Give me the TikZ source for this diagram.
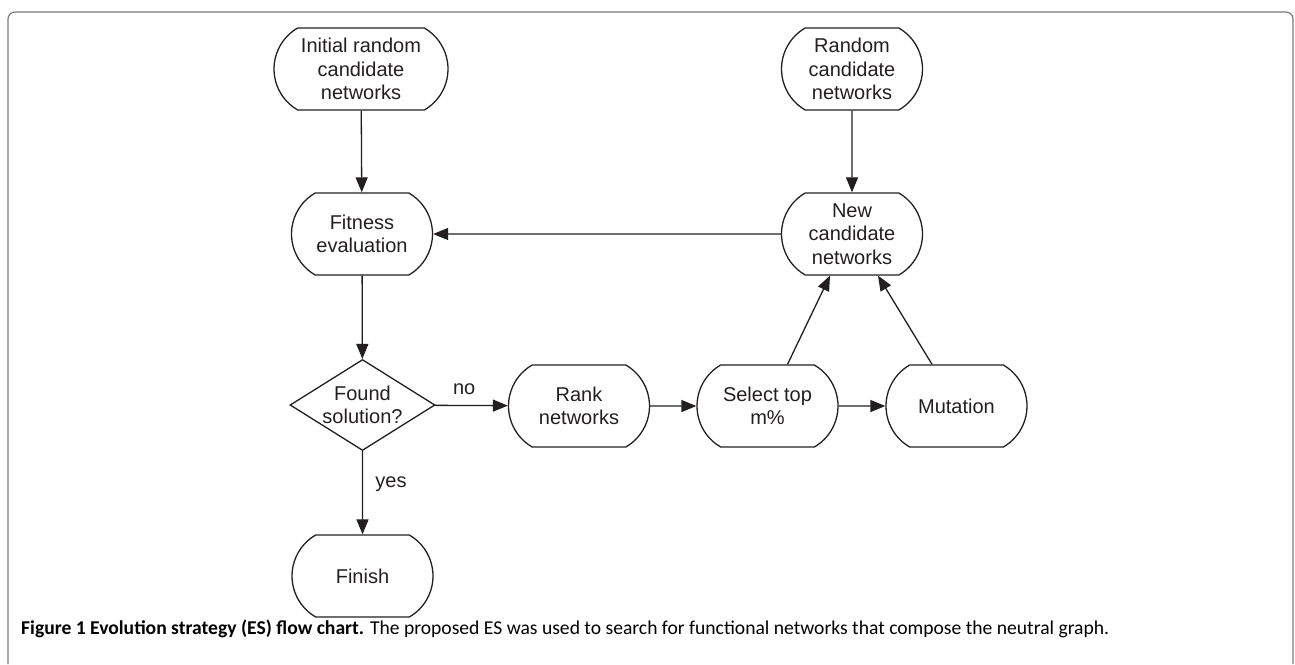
\documentclass[tikz,border=0pt]{standalone}
\usepackage{fontspec}
\setmainfont{Liberation Sans}
\newfontfamily\capfont{Carlito}
\usetikzlibrary{shapes.misc,shapes.geometric,arrows.meta}
\definecolor{ink}{HTML}{231F20}
\definecolor{framegray}{HTML}{7A7A7A}

\begin{document}
\begin{tikzpicture}[x=1pt, y=-1pt,
    term/.style={rounded rectangle, rounded rectangle arc length=120, draw=ink, line width=1.3pt,
                 minimum width=145pt, minimum height=82pt, inner sep=2pt, align=center,
                 font=\fontsize{20}{23.5}\selectfont, text=ink},
    decision/.style={diamond, draw=ink, line width=1.3pt, minimum width=145pt, minimum height=91pt,
                 inner sep=0pt},
    arrow/.style={-{Triangle[length=15pt, width=12pt]}, line width=1.3pt, ink},
    lbl/.style={font=\fontsize{20}{23.5}\selectfont, text=ink}
]
    \useasboundingbox (0,0) rectangle (1295,664);

    % Frame
    \draw[framegray, line width=1.2pt, rounded corners=7pt] (8,664) -- (8,12) -- (1293,12) -- (1293,664);

    % Start nodes
    \node[term, minimum width=178pt] (init) at (361,69) {Initial random\\candidate\\networks};
    \node[term] (rand) at (852,69) {Random\\candidate\\networks};

    % Evaluation
    \node[term] (fit) at (362,234) {Fitness\\evaluation};
    \node[term] (new) at (852,234) {New\\candidate\\networks};

    % Decision and selection row
    \node[decision, label={[lbl, align=center]center:Found\\solution?}] (found) at (362.5,405) {};
    \node[term] (rank) at (579,406) {Rank\\networks};
    \node[term] (sel) at (767.5,406) {Select top\\m\%};
    \node[term] (mut) at (956.5,406) {Mutation};

    % End
    \node[term] (fin) at (362.5,576) {Finish};

    % Arrows
    \draw[arrow] (init) -- (fit);
    \draw[arrow] (rand) -- (new);
    \draw[arrow] (new) -- (fit);
    \draw[arrow] (fit) -- (found);
    \draw[arrow] (found) -- node[lbl, above=7pt, pos=0.4] {no} (rank);
    \draw[arrow] (rank) -- (sel);
    \draw[arrow] (sel) -- (mut);
    \draw[arrow] ([xshift=20pt]sel.north) -- ([xshift=-22pt]new.south);
    \draw[arrow] ([xshift=-24.5pt]mut.north) -- ([xshift=26pt]new.south);
    \draw[arrow] (found) -- node[lbl, right=9pt, pos=0.4] {yes} (fin);

    % Caption
    \node[anchor=base west, inner sep=0pt, font=\capfont\fontsize{19.6}{23}\selectfont, text=black] (cap) at (21,634)
        {\textbf{Figure 1 Evolution strategy (ES) flow chart.} The proposed ES was used to search for functional networks that compose the neutral graph.};
\end{tikzpicture}
\end{document}
